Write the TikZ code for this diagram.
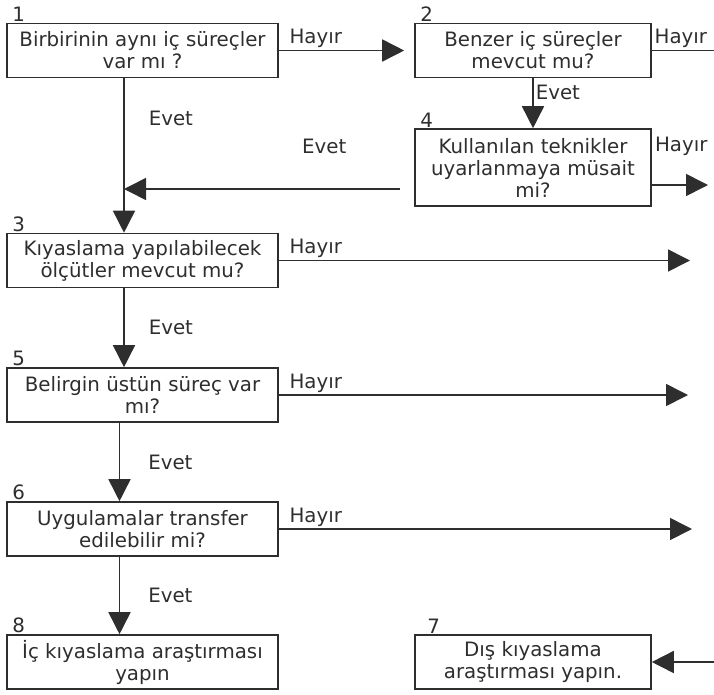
\documentclass[tikz,border=0pt]{standalone}
\usepackage{fontspec}
\setmainfont{DejaVu Sans}
\usepackage{xcolor}
\usepackage{tikz}
\usetikzlibrary{positioning}
\usetikzlibrary{arrows.meta}
\definecolor{ink}{HTML}{2E2E2E}
\tikzset{
    question/.style={draw=ink, rectangle, line width=1.6pt, minimum height=54pt, minimum width=271pt, align=center, inner sep=0pt, text=ink},
    answer/.style={draw=ink, rectangle, line width=1.6pt, minimum height=54pt, minimum width=271pt, align=center, inner sep=0pt, text=ink},
    num/.style={text=ink, inner sep=1pt, anchor=south west},
    tag/.style={text=ink, inner sep=2pt},
    line/.style={draw=ink, line width=1.6pt},
    arrow/.style={draw=ink, line width=1.6pt, -{Triangle[length=22pt, width=22pt]}}
}

\begin{document}
\begin{tikzpicture}[x=1pt, y=-1pt, every node/.style={font=\fontsize{19.8}{22}\selectfont}]

\useasboundingbox (0,0) rectangle (714,694);

\node [question]                                       (ayni)     at (142.5,50.5)  {Birbirinin aynı iç süreçler\\var mı ?};
\node [question, minimum width=236pt]                  (benzer)   at (533,50.5)    {Benzer iç süreçler\\mevcut mu?};
\node [question, minimum width=236pt, minimum height=77pt] (teknik) at (533,167.5) {Kullanılan teknikler\\uyarlanmaya müsait\\mi?};
\node [question]                                       (olcut)    at (142.5,260.5) {Kıyaslama yapılabilecek\\ölçütler mevcut mu?};
\node [question]                                       (ustun)    at (142.5,395)   {Belirgin üstün süreç var\\mı?};
\node [question]                                       (transfer) at (142.5,529)   {Uygulamalar transfer\\edilebilir mi?};
\node [answer]                                         (ic)       at (142.5,662)   {İç kıyaslama araştırması\\yapın};
\node [answer, minimum width=236pt]                    (dis)      at (533,662)     {Dış kıyaslama\\araştırması yapın.};

\node [num] at ([xshift=5pt]ayni.north west)     {1};
\node [num] at ([xshift=5pt]benzer.north west)   {2};
\node [num] at ([xshift=5pt]olcut.north west)    {3};
\node [num] at ([xshift=5pt]teknik.north west)   {4};
\node [num] at ([xshift=5pt]ustun.north west)    {5};
\node [num] at ([xshift=5pt]transfer.north west) {6};
\node [num] at ([xshift=12pt]dis.north west)     {7};
\node [num] at ([xshift=5pt]ic.north west)       {8};

\coordinate (kenar2)  at (714,50.5);
\coordinate (cikis4)  at (708,185);
\coordinate (birles)  at (124,189);
\coordinate (cikis3)  at (690,260.5);
\coordinate (cikis5)  at (688,395);
\coordinate (cikis6)  at (692,529);
\coordinate (giris7)  at (714,662);

\draw [arrow] (ayni) to node [tag, pos=0, above right, xshift=8pt] {Hayır} ([xshift=-10pt]benzer.west);
\draw [line] (benzer) to node [tag, pos=0, above right] {Hayır} (kenar2);
\draw [arrow] (benzer) to node [tag, pos=0.29, right] {Evet} (teknik);
\draw [arrow] (teknik.east |- cikis4) -- (cikis4);
\node [tag, anchor=west] at ([xshift=1pt, yshift=21pt]teknik.east) {Hayır};
\draw [arrow, shorten <=14pt] (teknik.west |- birles) to node [tag, pos=0.31, yshift=43pt] {Evet} (birles);

\draw [arrow] ([xshift=-18.5pt]ayni.south) to node [tag, pos=0.26, right, xshift=22pt] {Evet} ([xshift=-18.5pt]olcut.north);
\draw [arrow] (olcut) to node [tag, pos=0, above right, xshift=8pt] {Hayır} (cikis3);
\draw [arrow] ([xshift=-18.5pt]olcut.south) to node [tag, midway, right, xshift=22pt] {Evet} ([xshift=-18.5pt]ustun.north);
\draw [arrow] (ustun) to node [tag, pos=0, above right, xshift=8pt] {Hayır} (cikis5);
\draw [arrow] ([xshift=-23pt]ustun.south) to node [tag, midway, right, xshift=26pt] {Evet} ([xshift=-23pt]transfer.north);
\draw [arrow] (transfer) to node [tag, pos=0, above right, xshift=8pt] {Hayır} (cikis6);
\draw [arrow] ([xshift=-23pt]transfer.south) to node [tag, midway, right, xshift=26pt] {Evet} ([xshift=-23pt]ic.north);
\draw [arrow] (giris7) to (dis);

\end{tikzpicture}
\end{document}
